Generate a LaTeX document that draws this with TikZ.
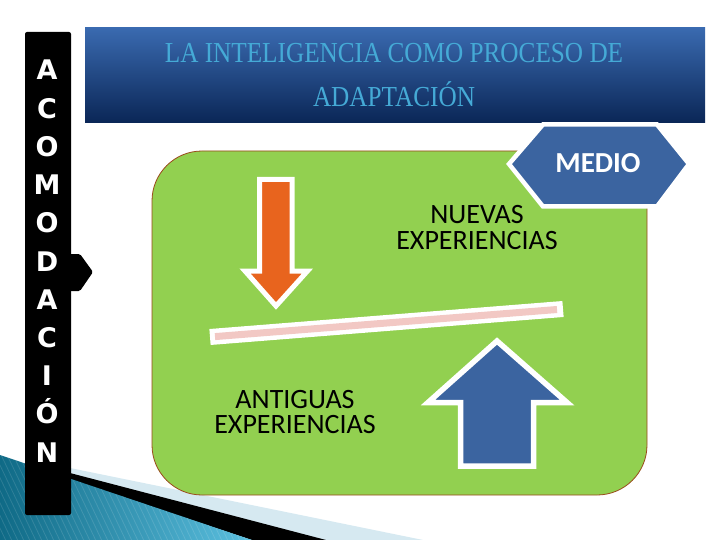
\documentclass[tikz,border=0pt]{standalone}
\usepackage{fontspec}
\newfontfamily\titlefont[FakeStretch=0.87]{Liberation Serif}
\newfontfamily\lblfont{Carlito}
\newfontfamily\barfont{DejaVu Sans}
\definecolor{bandtop}{HTML}{3A6AB0}
\definecolor{bandbot}{HTML}{0A2656}
\definecolor{titletxt}{HTML}{45AAD6}
\definecolor{lgreen}{HTML}{92D050}
\definecolor{rectborder}{HTML}{9A4A1C}
\definecolor{steel}{HTML}{3B64A0}
\definecolor{orangeA}{HTML}{E8641E}
\definecolor{pinkbeam}{HTML}{F2C8C4}
\definecolor{tealdark}{HTML}{0F6A86}
\definecolor{teallight}{HTML}{5CC0E0}
\definecolor{paleblue}{HTML}{D6E9F1}
\tikzset{
  outlined/.style={draw=white, line width=5.5pt, line join=miter},
  barletter/.style={text=white, font=\barfont\bfseries\fontsize{27}{27}\selectfont, anchor=base, inner sep=0pt},
  lbl/.style={text=black, font=\lblfont\fontsize{28}{25.5}\selectfont, align=center, anchor=center, inner sep=0pt},
  ttl/.style={text=titletxt, font=\titlefont\fontsize{29}{29}\selectfont, anchor=base, inner sep=0pt}
}
\begin{document}
\begin{tikzpicture}[x=1pt,y=-1pt]
\useasboundingbox (0,0) rectangle (720,540);
\fill[white] (0,0) rectangle (720,540);

% bottom-left decoration
\fill[paleblue] (70,468) -- (423,540) -- (320,540) -- (70,475) -- cycle;
\fill[black] (70,473) -- (326,540) -- (252,540) -- (70,480) -- cycle;
\shade[left color=tealdark, right color=teallight] (0,455) -- (252,540) -- (0,540) -- cycle;
\begin{scope}
  \clip (0,455) -- (252,540) -- (0,540) -- cycle;
  \foreach \i in {-60,-54,...,260} {
    \draw[white, opacity=0.12, line width=0.8pt] (\i,440) -- (\i+50,545);
  }
\end{scope}

% title banner
\shade[top color=bandtop, bottom color=bandbot] (85,28) rectangle (705,123);
\node[ttl] (t1) at (394,62.5) {LA INTELIGENCIA COMO PROCESO DE};
\node[ttl] (t2) at (394,106.5) {ADAPTACIÓN};

% black vertical bar with letters
\fill[black, rounded corners=2pt] (25,32) rectangle (71,515);
\fill[black, rounded corners=1.5pt] (69,254) -- (80,254) -- (93,272) -- (80,291) -- (69,291) -- cycle;
\foreach \l [count=\k from 0] in {A,C,O,M,O,D,A,C,I,Ó,N} {
  \node[barletter] (L\k) at (47,{80+38.2*\k}) {\l};
}

% green rounded panel
\draw[draw=rectborder, fill=lgreen, line width=0.8pt, rounded corners=50pt] (152,151) rectangle (647,495);

% MEDIO hexagon
\draw[outlined, fill=steel, line width=4.5pt] (509,164) -- (543,124.5) -- (657,124.5) -- (689,164) -- (657,206.5) -- (543,206.5) -- cycle;
\node[text=white, font=\lblfont\bfseries\fontsize{29}{29}\selectfont, inner sep=0pt] (medio) at (598,163) {MEDIO};

% orange down arrow
\draw[outlined, fill=orangeA, line width=5pt] (259.5,179.5) -- (292,179.5) -- (292,271) -- (307.5,271) -- (276,306) -- (245,271) -- (259.5,271) -- cycle;

% beam
\draw[white, line width=16pt] (210,337) -- (563,309);
\draw[pinkbeam, line width=7pt] (215,336.6) -- (557,309.5);

% blue up arrow
\draw[outlined, fill=steel, line width=5.5pt] (497,341) -- (567,402.5) -- (533.5,402.5) -- (533.5,466) -- (460.5,466) -- (460.5,402.5) -- (428,402.5) -- cycle;

% labels
\node[lbl] (nuevas) at (477,227.5) {NUEVAS\\EXPERIENCIAS};
\node[lbl] (antiguas) at (295,412) {ANTIGUAS\\EXPERIENCIAS};
\end{tikzpicture}
\end{document}
